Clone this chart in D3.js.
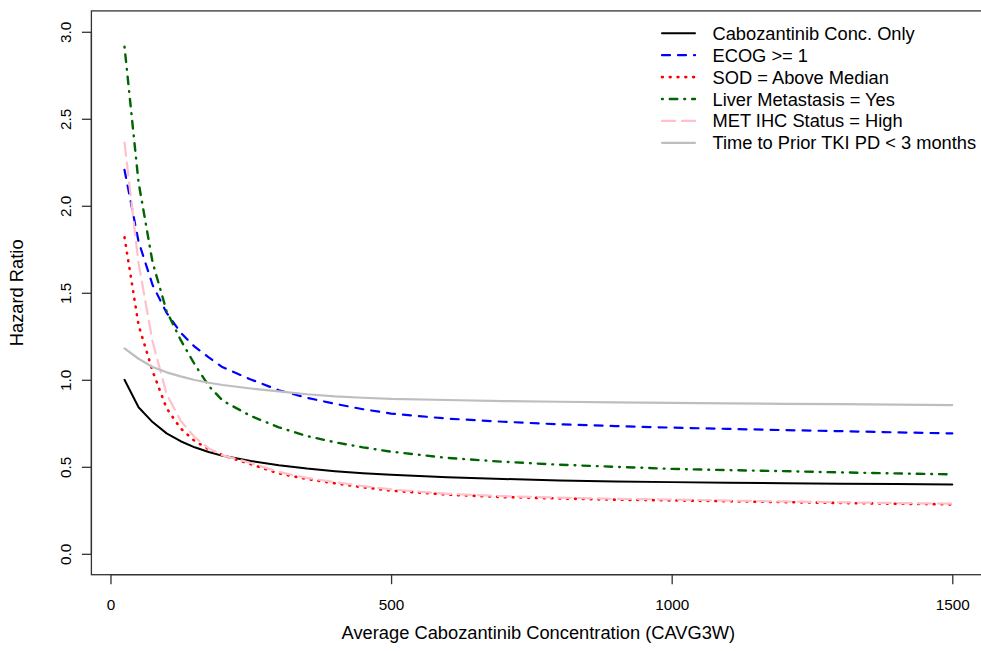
<!DOCTYPE html>
<html>
<head>
<meta charset="utf-8">
<script src="https://cdn.jsdelivr.net/npm/d3@7"></script>
<style>
  html, body { margin: 0; padding: 0; background: #fff; }
  svg { display: block; font-family: "Liberation Sans", Arial, sans-serif; }
</style>
</head>
<body>
<svg id="chart" width="981" height="651"></svg>
<script>
// Concentration grid (CAVG3W) at which each hazard-ratio curve is evaluated
const concentration = [25, 50, 75, 100, 125, 150, 175, 200, 250, 300, 350, 400, 450, 500,
                       600, 700, 800, 900, 1000, 1100, 1200, 1300, 1400, 1500];

// Hazard ratio per covariate scenario
const concOnly   = [1.000, 0.842, 0.757, 0.692, 0.647, 0.612, 0.585, 0.563, 0.533, 0.509, 0.490, 0.475, 0.463, 0.454,
                    0.440, 0.430, 0.422, 0.416, 0.412, 0.409, 0.406, 0.403, 0.401, 0.399];
const ecog       = [2.206, 1.795, 1.545, 1.385, 1.271, 1.190, 1.129, 1.072, 1.002, 0.940, 0.897, 0.862, 0.831, 0.806,
                    0.777, 0.759, 0.744, 0.734, 0.725, 0.718, 0.711, 0.705, 0.698, 0.692];
const sodHigh    = [1.819, 1.315, 1.050, 0.836, 0.721, 0.648, 0.602, 0.566, 0.515, 0.462, 0.430, 0.405, 0.382, 0.363,
                    0.340, 0.326, 0.318, 0.311, 0.307, 0.302, 0.297, 0.292, 0.288, 0.284];
const liverMet   = [2.914, 2.135, 1.675, 1.395, 1.229, 1.089, 0.965, 0.880, 0.792, 0.727, 0.677, 0.641, 0.612, 0.587,
                    0.551, 0.529, 0.512, 0.500, 0.488, 0.481, 0.475, 0.468, 0.462, 0.457];
const metIhcHigh = [2.363, 1.670, 1.220, 0.918, 0.765, 0.670, 0.606, 0.566, 0.522, 0.470, 0.436, 0.412, 0.389, 0.370,
                    0.345, 0.331, 0.323, 0.316, 0.312, 0.306, 0.301, 0.296, 0.292, 0.288];
const priorTki   = [1.181, 1.121, 1.074, 1.043, 1.020, 0.999, 0.983, 0.970, 0.950, 0.933, 0.917, 0.905, 0.897, 0.890,
                    0.884, 0.878, 0.874, 0.870, 0.868, 0.865, 0.862, 0.860, 0.857, 0.855];

const seriesLabels = ["Cabozantinib Conc. Only", "ECOG >= 1", "SOD = Above Median",
                      "Liver Metastasis = Yes", "MET IHC Status = High", "Time to Prior TKI PD < 3 months"];

const xTicks = [0, 500, 1000, 1500];
const yTicks = [0.0, 0.5, 1.0, 1.5, 2.0, 2.5, 3.0];

// Line styles (R-like lty patterns)
const styles = [
  { color: "#000000", dash: null,            width: 2 },
  { color: "#0000FF", dash: "8,8",           width: 2.2 },
  { color: "#FF0000", dash: "0.8,7",         width: 2.6 },
  { color: "#006400", dash: "0.8,7,7.5,7",   width: 2.4 },
  { color: "#FFC0CB", dash: "13,7",          width: 2.2 },
  { color: "#BEBEBE", dash: null,            width: 2.2 }
];

const seriesValues = [concOnly, ecog, sodHigh, liverMet, metIhcHigh, priorTki];
const series = seriesValues.map((vals, i) => ({
  label: seriesLabels[i],
  style: styles[i],
  points: concentration.map((c, j) => ({ x: c, y: vals[j] }))
}));

const svg = d3.select("#chart");
const FONT = "Liberation Sans, Arial, sans-serif";

// Plot region: data range padded by 4% on each side
const x = d3.scaleLinear().domain([-34, 1559]).range([91.4, 985.4]);
const y = d3.scaleLinear().domain([-0.12, 3.12]).range([574.7, 10.9]);

const line = d3.line().x(d => x(d.x)).y(d => y(d.y));

// Curves
const curves = svg.append("g");
series.forEach(s => {
  curves.append("path")
    .datum(s.points)
    .attr("fill", "none")
    .attr("stroke", s.style.color)
    .attr("stroke-width", s.style.width)
    .attr("stroke-linecap", "round")
    .attr("stroke-linejoin", "round")
    .attr("stroke-dasharray", s.style.dash)
    .attr("d", line);
});

// Plot frame
svg.append("rect")
  .attr("x", x.range()[0]).attr("y", y.range()[1])
  .attr("width", x.range()[1] - x.range()[0])
  .attr("height", y.range()[0] - y.range()[1])
  .attr("fill", "none").attr("stroke", "#333").attr("stroke-width", 1.3);

// X axis
const xAxis = svg.append("g")
  .attr("transform", `translate(0,${y.range()[0]})`)
  .call(d3.axisBottom(x).tickValues(xTicks).tickSize(9.5).tickPadding(0).tickFormat(d3.format("d")));
xAxis.select(".domain").attr("d", `M${x(0)},0H${x(1500)}`).attr("stroke", "#333").attr("stroke-width", 1.3);
xAxis.selectAll(".tick line").attr("stroke", "#333").attr("stroke-width", 1.3);
xAxis.selectAll(".tick text")
  .attr("y", 35.5).attr("dy", null)
  .attr("font-size", 15.3).attr("font-family", FONT).attr("fill", "#000");

// Y axis with labels rotated parallel to the axis
const yAxis = svg.append("g")
  .attr("transform", `translate(${x.range()[0]},0)`)
  .call(d3.axisLeft(y).tickValues(yTicks).tickSize(9.5).tickFormat(d3.format(".1f")));
yAxis.select(".domain").attr("d", `M0,${y(0)}V${y(3)}`).attr("stroke", "#333").attr("stroke-width", 1.3);
yAxis.selectAll(".tick line").attr("stroke", "#333").attr("stroke-width", 1.3);
yAxis.selectAll(".tick text")
  .attr("x", null).attr("dy", null)
  .attr("transform", "translate(-20.4,0) rotate(-90)")
  .attr("text-anchor", "middle")
  .attr("font-size", 15.3).attr("font-family", FONT).attr("fill", "#000");

// Axis titles
svg.append("text")
  .attr("x", (x.range()[0] + x.range()[1]) / 2).attr("y", 639)
  .attr("text-anchor", "middle").attr("font-size", 18.3)
  .text("Average Cabozantinib Concentration (CAVG3W)");

svg.append("text")
  .attr("transform", `translate(23,${(y.range()[0] + y.range()[1]) / 2}) rotate(-90)`)
  .attr("text-anchor", "middle").attr("font-size", 18.3)
  .text("Hazard Ratio");

// Legend
const legend = svg.append("g");
const legendTop = 33.3, legendStep = 21.9;
series.forEach((s, i) => {
  const ly = legendTop + i * legendStep;
  legend.append("line")
    .attr("x1", 662).attr("x2", 695).attr("y1", ly).attr("y2", ly)
    .attr("stroke", s.style.color).attr("stroke-width", s.style.width)
    .attr("stroke-linecap", "round")
    .attr("stroke-dasharray", s.style.dash);
  legend.append("text")
    .attr("x", 712.5).attr("y", ly + 6.5)
    .attr("font-size", 18.3)
    .text(s.label);
});
</script>
</body>
</html>
